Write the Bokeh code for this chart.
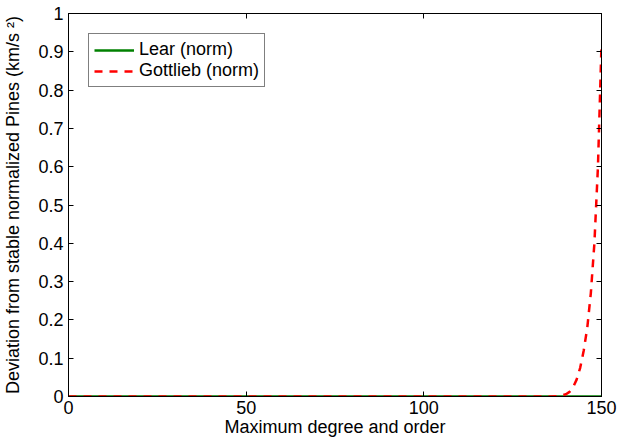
from bokeh.plotting import figure
from bokeh.models import Range1d, LinearAxis, FixedTicker, Legend, LegendItem
from bokeh.embed import file_html
from bokeh.resources import INLINE

# ---- data ----
lear_deg = [0, 150]
lear_val = [0, 0]

gott_deg = [0, 136, 137, 138, 139, 140, 141, 142, 143, 144, 145, 146, 147, 148, 149, 150]
gott_val = [0, 0, 0.0005, 0.001, 0.003, 0.006, 0.012, 0.024, 0.044, 0.075, 0.12, 0.18, 0.27, 0.40, 0.60, 0.92]

x_ticks = [0, 50, 100, 150]
x_tick_labels = ["0", "50", "100", "150"]
y_ticks = [0, 0.1, 0.2, 0.3, 0.4, 0.5, 0.6, 0.7, 0.8, 0.9, 1]
y_tick_labels = ["0", "0.1", "0.2", "0.3", "0.4", "0.5", "0.6", "0.7", "0.8", "0.9", "1"]

FONT = "Liberation Sans"
FS = "18px"

p = figure(width=617, height=443, output_backend="svg", toolbar_location=None,
           x_range=Range1d(0, 150), y_range=Range1d(0, 1),
           min_border_left=68, min_border_right=16, min_border_top=13, min_border_bottom=47,
           background_fill_color="white", border_fill_color="white")
p.xgrid.visible = False
p.ygrid.visible = False
p.outline_line_color = "black"
p.outline_line_width = 1
p.outline_line_alpha = 1

r_lear = p.line(lear_deg, lear_val, line_color="#008000", line_width=2.5)
r_gott = p.line(gott_deg, gott_val, line_color="#ff0000", line_width=2.5, line_dash="8 7")

def style_axis(ax, ticks, labels, show_labels=True):
    ax.ticker = FixedTicker(ticks=ticks)
    ax.major_tick_in = 5
    ax.major_tick_out = 0
    ax.minor_tick_line_color = None
    ax.major_tick_line_color = "black"
    ax.axis_line_color = "black"
    if show_labels:
        ax.major_label_overrides = {t: l for t, l in zip(ticks, labels)}
        ax.major_label_text_font = FONT
        ax.major_label_text_color = "black"
        ax.axis_label_text_font = FONT
        ax.axis_label_text_font_style = "normal"
        ax.axis_label_text_color = "black"
        ax.major_label_text_font_size = FS
        ax.axis_label_text_font_size = FS
    else:
        ax.major_label_text_font_size = "1px"
        ax.major_label_text_color = None
        ax.major_label_standoff = 0
        ax.axis_label = None

xa = p.xaxis[0]
style_axis(xa, x_ticks, x_tick_labels)
xa.axis_label = "Maximum degree and order"
xa.major_label_standoff = 4
xa.axis_label_standoff = 0

ya = p.yaxis[0]
style_axis(ya, y_ticks, y_tick_labels)
ya.axis_label = "Deviation from stable normalized Pines (km/s \u00b2)"
ya.major_label_standoff = 5
ya.axis_label_standoff = 12

top = LinearAxis()
style_axis(top, x_ticks, x_tick_labels, show_labels=False)
p.add_layout(top, "above")

right = LinearAxis()
style_axis(right, y_ticks, y_tick_labels, show_labels=False)
p.add_layout(right, "right")

legend = Legend(items=[LegendItem(label="Lear (norm)", renderers=[r_lear]),
                       LegendItem(label="Gottlieb (norm)", renderers=[r_gott])],
                location="top_left")
legend.margin = 20
legend.padding = 5
legend.spacing = 0
legend.glyph_width = 40
legend.glyph_height = 20
legend.label_height = 20
legend.label_standoff = 5
legend.label_text_font = FONT
legend.label_text_font_size = FS
legend.label_text_color = "black"
legend.border_line_color = "black"
legend.border_line_width = 1
legend.background_fill_color = "white"
legend.background_fill_alpha = 1
p.add_layout(legend, "center")

open("out.html", "w").write(file_html(p, INLINE))
